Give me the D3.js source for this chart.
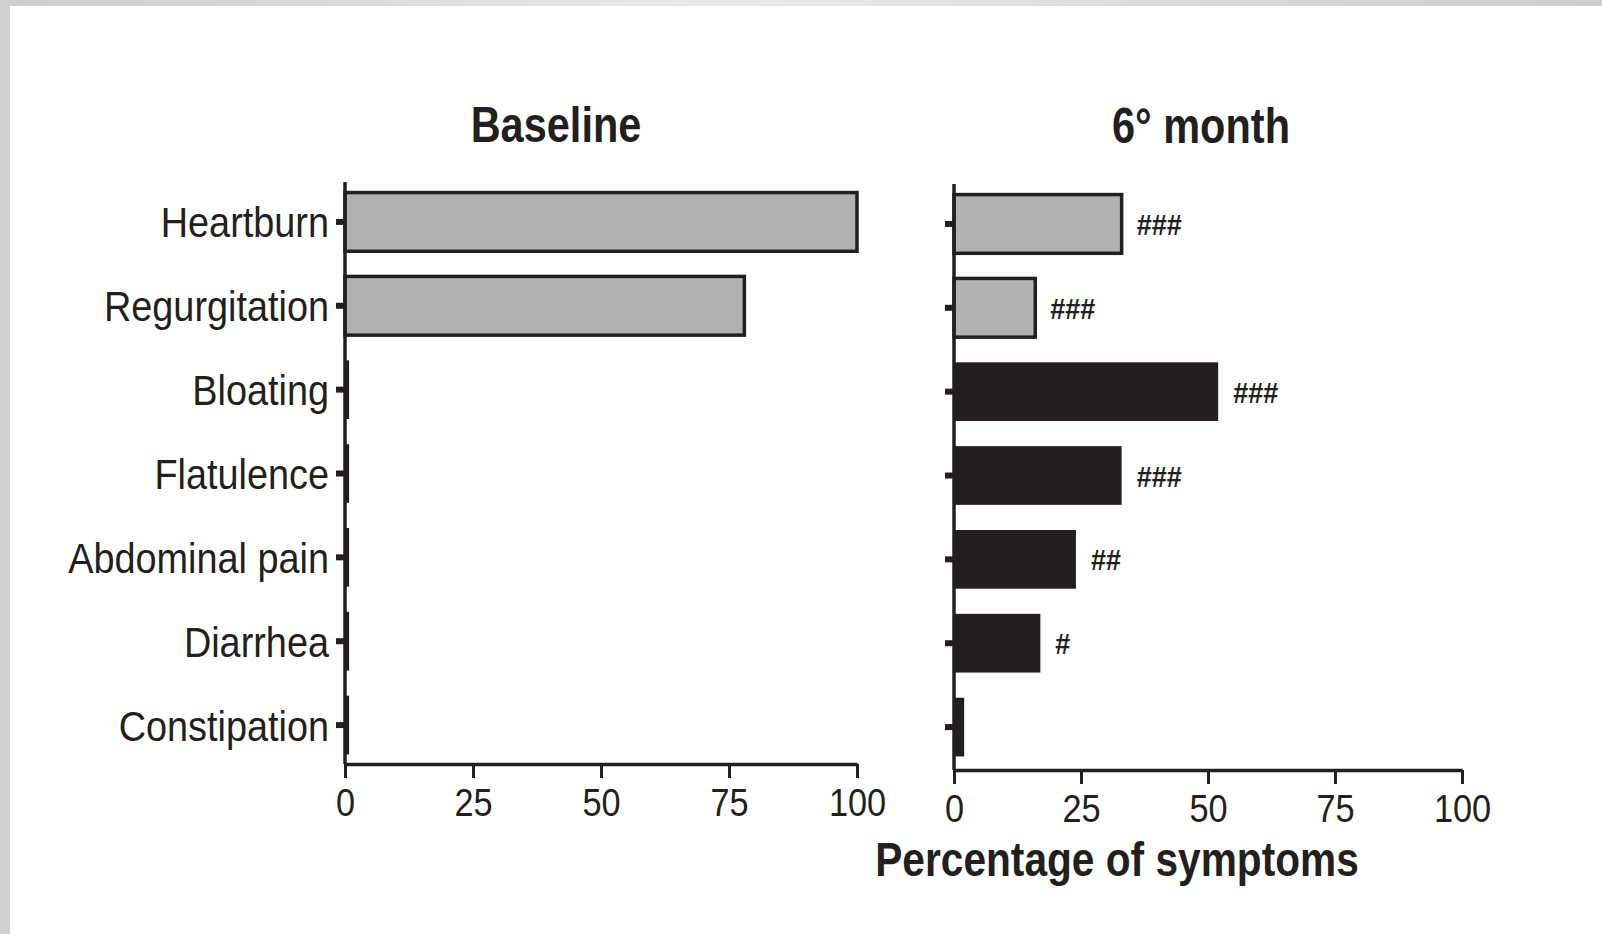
<!DOCTYPE html>
<html><head><meta charset="utf-8">
<script src="https://cdnjs.cloudflare.com/ajax/libs/d3/7.8.5/d3.min.js"></script>
<style>body{margin:0;background:#fff;overflow:hidden} svg{display:block}</style>
</head><body>
<svg id="c" width="1602" height="934"></svg>
<script>
// ---- data ----
const categories = ["Heartburn","Regurgitation","Bloating","Flatulence","Abdominal pain","Diarrhea","Constipation"];
const symptomGroup = ["reflux","reflux","other","other","other","other","other"];
const baselineValues = [100,78,0.8,0.8,0.8,0.8,0.8];
const month6Values = [33,16,52,33,24,17,2];
const month6Marks = ["###","###","###","###","##","#",""];
const baselineMarks = ["","","","","","",""];
const xTicks = [0,25,50,75,100];
const panelTitles = ["Baseline","6° month"];
const xAxisTitle = "Percentage of symptoms";

// ---- style ----
const FONT = "'Liberation Sans',Arial,Helvetica,sans-serif";
const INK = "#231f20";
const GRAY = "#b0b1b3";
const SX_REG = 0.88, SX_BOLD = 0.83;

const svg = d3.select("#c");

// condensed text helper: places text at (x,y) squeezed horizontally
function ctext(parent, x, y, str, size, bold, anchor, sx) {
  return parent.append("text")
    .attr("transform", `translate(${x},${y}) scale(${sx},1)`)
    .attr("text-anchor", anchor)
    .attr("font-family", FONT).attr("font-weight", bold ? "bold" : "normal")
    .attr("font-size", size).attr("fill", INK).text(str);
}

// frame
const defs = svg.append("defs");
const g1 = defs.append("linearGradient").attr("id","topg").attr("x1","0").attr("x2","1");
g1.append("stop").attr("offset","0").attr("stop-color","#cdcdcd");
g1.append("stop").attr("offset","0.45").attr("stop-color","#e9e9e9");
g1.append("stop").attr("offset","1").attr("stop-color","#cdcdcd");
svg.append("rect").attr("x",0).attr("y",0).attr("width",1602).attr("height",6).attr("fill","url(#topg)");
svg.append("rect").attr("x",0).attr("y",0).attr("width",10).attr("height",934).attr("fill","#d0d0d0");

const panels = [
  {title: panelTitles[0], values: baselineValues, marks: baselineMarks, xr:[345,857], yr:[180,767], axisTop:182, axisY:764, titleX:556, titleY:142, showLabels:true},
  {title: panelTitles[1], values: month6Values, marks: month6Marks, xr:[954,1462], yr:[182,769], axisTop:184, axisY:770, titleX:1201, titleY:143, showLabels:false}
];

panels.forEach(p => {
  const x = d3.scaleLinear().domain([0,100]).range(p.xr);
  const y = d3.scaleBand().domain(categories).range(p.yr).paddingInner(0.3).paddingOuter(0.15);
  const g = svg.append("g");

  // title
  ctext(g, p.titleX, p.titleY, p.title, 50, true, "middle", SX_BOLD);

  // bars
  g.selectAll("rect.bar").data(categories).join("rect").attr("class","bar")
    .attr("x", x(0))
    .attr("y", d => y(d))
    .attr("width", (d,i) => x(p.values[i]) - x(0))
    .attr("height", y.bandwidth())
    .attr("fill", (d,i) => symptomGroup[i] === "reflux" ? GRAY : INK)
    .attr("stroke", INK)
    .attr("stroke-width", (d,i) => symptomGroup[i] === "reflux" ? 3.5 : 0);

  // significance marks
  categories.forEach((c,i) => {
    if (p.marks[i]) ctext(g, x(p.values[i]) + 15, y(c) + y.bandwidth()/2 + 11, p.marks[i], 30, true, "start", 0.9);
  });

  // y axis
  const yAxis = d3.axisLeft(y).tickSize(9).tickPadding(6);
  const ya = g.append("g").attr("transform",`translate(${x(0)},0)`).call(yAxis);
  ya.select(".domain").remove();
  ya.selectAll(".tick line").attr("stroke",INK).attr("stroke-width",6);
  ya.selectAll(".tick text").attr("font-family",FONT).attr("font-size",43).attr("fill",INK)
    .attr("x",0).attr("dy","0.36em")
    .attr("transform",`translate(-16,0) scale(${SX_REG},1)`)
    .style("display", p.showLabels ? null : "none");
  g.append("line").attr("x1",x(0)).attr("x2",x(0)).attr("y1",p.axisTop).attr("y2",p.axisY)
    .attr("stroke",INK).attr("stroke-width",3.5);

  // x axis
  const xAxis = d3.axisBottom(x).tickValues(xTicks).tickSize(14).tickPadding(10).tickSizeOuter(0);
  const xa = g.append("g").attr("transform",`translate(0,${p.axisY})`).call(xAxis);
  xa.select(".domain").attr("stroke",INK).attr("stroke-width",3.5);
  xa.selectAll(".tick line").attr("stroke",INK).attr("stroke-width",3);
  xa.selectAll(".tick text").attr("font-family",FONT).attr("font-size",39).attr("fill",INK)
    .attr("x", 0).attr("transform", `scale(${SX_REG},1)`);
});

ctext(svg, 1117, 876, xAxisTitle, 49, true, "middle", SX_BOLD);
</script>
</body></html>
